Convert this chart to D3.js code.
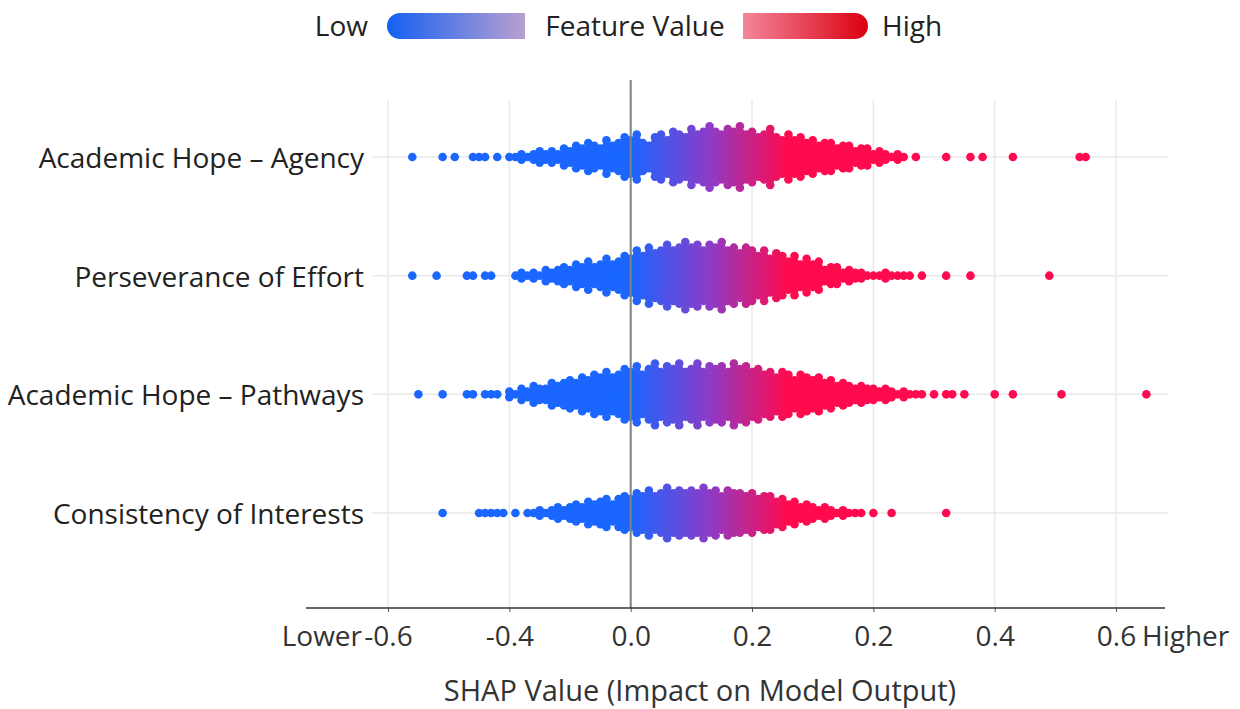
<!DOCTYPE html>
<html>
<head>
<meta charset="utf-8">
<title>SHAP summary</title>
<style>
  body { margin: 0; background: #fff; font-family: "Open Sans", sans-serif; }
  svg { display: block; }
</style>
</head>
<body>
<svg width="1240" height="709"></svg>
<script src="https://d3js.org/d3.v7.min.js"></script>
<script>
// features, top to bottom
const features = [
  "Academic Hope – Agency",
  "Perseverance of Effort",
  "Academic Hope – Pathways",
  "Consistency of Interests"
];

// dots per SHAP bin, bins start at -0.40 and step 0.01 (127 bins, to 0.86)
const binStart = -0.40, binStep = 0.01;

const agencyCounts = [
  0,0,0,0,1,0,0,0,0,1,   // -0.40 .. -0.31
  0,1,0,0,1,1,1,0,1,0,   // -0.30 .. -0.21
  1,1,2,1,2,3,2,3,2,4,   // -0.20 .. -0.11
  3,5,4,6,5,4,7,5,6,8,   // -0.10 .. -0.01
  7,9,6,5,8,9,7,10,9,8,  //  0.00 ..  0.09
  11,9,10,12,10,9,11,10,12,9,
  10,8,9,11,8,7,9,7,8,6, //  0.20 ..
  7,5,6,6,4,5,5,3,4,4,
  2,3,2,1,2,1,0,1,0,0,   //  0.40 ..
  0,0,1,0,0,0,1,0,1,0,
  0,0,0,1,0,0,0,0,0,0,   //  0.60 ..
  0,0,0,0,1,1,0,0,0,0,
  0,0,0,0,0,0,0
];

const perseveranceCounts = [
  0,0,0,0,1,0,0,0,1,0,
  0,0,0,1,1,0,1,1,0,0,
  0,1,2,1,2,1,3,2,3,4,
  3,5,4,6,4,5,7,5,6,8,
  7,10,8,11,9,10,12,10,11,13,
  11,12,10,12,11,13,10,11,9,11,
  10,8,10,7,9,8,6,8,5,7,
  5,6,3,4,4,2,3,2,2,1,
  1,1,2,1,1,1,1,0,1,0,
  0,0,1,0,0,0,1,0,0,0,
  0,0,0,0,0,0,0,0,0,1,
  0,0,0,0,0,0,0,0,0,0,
  0,0,0,0,0,0,0
];

const pathwaysCounts = [
  0,0,0,0,0,1,0,0,0,1,
  0,0,0,1,1,0,1,1,1,0,
  2,1,3,2,4,3,3,5,4,5,
  6,5,7,6,8,7,9,7,8,10,
  9,11,8,10,12,9,11,10,12,9,
  10,12,9,11,10,11,9,12,10,11,
  9,10,8,9,7,9,8,6,8,7,
  6,7,5,6,4,5,4,3,4,3,
  3,2,3,2,1,2,1,1,1,0,
  1,0,1,1,0,1,0,0,0,0,
  1,0,0,1,0,0,0,0,0,0,
  0,1,0,0,0,0,0,0,0,0,
  0,0,0,0,0,1,0
];

const consistencyCounts = [
  0,0,0,0,0,0,0,0,0,1,
  0,0,0,0,0,1,1,1,1,1,
  0,1,0,1,1,2,1,2,3,2,
  3,4,3,5,4,5,6,4,6,7,
  6,8,7,9,7,8,10,8,9,8,
  9,8,10,8,9,7,9,8,8,7,
  8,6,7,7,5,6,4,5,3,4,
  3,2,3,2,1,2,1,1,1,0,
  1,0,0,1,0,0,0,0,0,0,
  0,0,1,0,0,0,0,0,0,0,
  0,0,0,0,0,0,0,0,0,0,
  0,0,0,0,0,0,0,0,0,0,
  0,0,0,0,0,0,0
];

const featureCounts = [agencyCounts, perseveranceCounts, pathwaysCounts, consistencyCounts];

// axis ticks as printed on the figure
const xTickValues = [-0.4, -0.2, 0, 0.2, 0.4, 0.6, 0.8];
const xTickLabels = ["-0.6", "-0.4", "0.0", "0.2", "0.2", "0.4", "0.6"];

const svg = d3.select("svg");
const fs = 28;

const x = d3.scaleLinear().domain([-0.405, 0.795]).range([385, 1113]);
const y = d3.scalePoint().domain(features).range([157, 513]);
const color = d3.scaleLinear()
  .domain([0, 0.13, 0.26])
  .range(["#1a66ff", "#8c3cc8", "#ff0a4e"])
  .clamp(true);

const axisY = 608;
const layerGap = 5.6;

// vertical grid
svg.append("g").selectAll("line")
  .data(xTickValues).join("line")
  .attr("x1", d => x(d)).attr("x2", d => x(d))
  .attr("y1", 100).attr("y2", axisY)
  .attr("stroke", "#e9e9e9").attr("stroke-width", 1.5);

// row lines
svg.append("g").selectAll("line")
  .data(features).join("line")
  .attr("x1", 372).attr("x2", 1168)
  .attr("y1", d => y(d)).attr("y2", d => y(d))
  .attr("stroke", "#e9e9e9").attr("stroke-width", 1.5);

// beeswarm: dots of a bin stacked symmetrically round the row line
// (odd count -> 0, ±1, ±2 ..., even count -> ±0.5, ±1.5 ...)
const dots = [];
features.forEach((f, k) => {
  featureCounts[k].forEach((c, i) => {
    const v = binStart + i * binStep;
    const shift = c % 2 ? 0 : 0.5;
    for (let layer = 0; layer < c; layer++) {
      const step = c % 2 ? Math.ceil(layer / 2) : Math.floor(layer / 2) + shift;
      const off = step * (layer % 2 ? 1 : -1);
      dots.push({ f, v, off });
    }
  });
});

svg.append("g").selectAll("circle")
  .data(dots).join("circle")
  .attr("cx", d => x(d.v))
  .attr("cy", d => y(d.f) + d.off * layerGap)
  .attr("r", 4.3)
  .attr("fill", d => color(d.v));

// zero line
svg.append("line")
  .attr("x1", x(0)).attr("x2", x(0))
  .attr("y1", 80).attr("y2", axisY)
  .attr("stroke", "#808080").attr("stroke-width", 2);

// feature labels
svg.append("g").selectAll("text")
  .data(features).join("text")
  .attr("x", 364).attr("y", d => y(d))
  .attr("text-anchor", "end")
  .attr("dominant-baseline", "central")
  .attr("font-size", fs)
  .attr("fill", "#222")
  .text(d => d);

// x axis
const xAxis = svg.append("g")
  .attr("transform", `translate(0,${axisY})`)
  .call(d3.axisBottom(x)
    .tickValues(xTickValues)
    .tickFormat((d, i) => xTickLabels[i])
    .tickSize(4)
    .tickPadding(14));
xAxis.select(".domain").remove();
xAxis.selectAll(".tick line").attr("stroke", "#555");
xAxis.selectAll(".tick text")
  .attr("font-size", fs)
  .attr("font-family", "Open Sans, sans-serif")
  .attr("fill", "#333");

svg.append("line")
  .attr("x1", 306).attr("x2", 1165)
  .attr("y1", axisY).attr("y2", axisY)
  .attr("stroke", "#333").attr("stroke-width", 1.5);

svg.append("text")
  .attr("x", 362).attr("y", 646)
  .attr("text-anchor", "end")
  .attr("font-size", fs).attr("fill", "#333")
  .text("Lower");
svg.append("text")
  .attr("x", 1142).attr("y", 646)
  .attr("font-size", fs).attr("fill", "#333")
  .text("Higher");

svg.append("text")
  .attr("x", 700).attr("y", 701)
  .attr("text-anchor", "middle")
  .attr("font-size", 29).attr("fill", "#333")
  .text("SHAP Value (Impact on Model Output)");

// legend
const defs = svg.append("defs");
const gLow = defs.append("linearGradient").attr("id", "gLow")
  .attr("gradientUnits", "userSpaceOnUse")
  .attr("x1", 387).attr("x2", 525).attr("y1", 0).attr("y2", 0);
gLow.append("stop").attr("offset", 0).attr("stop-color", "#1460f2");
gLow.append("stop").attr("offset", 1).attr("stop-color", "#b8a0d0");
const gHigh = defs.append("linearGradient").attr("id", "gHigh")
  .attr("gradientUnits", "userSpaceOnUse")
  .attr("x1", 743).attr("x2", 868).attr("y1", 0).attr("y2", 0);
gHigh.append("stop").attr("offset", 0).attr("stop-color", "#f4869a");
gHigh.append("stop").attr("offset", 1).attr("stop-color", "#da0010");

const legY = 13, legH = 26;
svg.append("rect").attr("x", 387).attr("y", legY).attr("width", 138).attr("height", legH)
  .attr("rx", legH / 2).attr("fill", "url(#gLow)");
svg.append("rect").attr("x", 405).attr("y", legY).attr("width", 120).attr("height", legH)
  .attr("fill", "url(#gLow)");
svg.append("rect").attr("x", 743).attr("y", legY).attr("width", 125).attr("height", legH)
  .attr("rx", legH / 2).attr("fill", "url(#gHigh)");
svg.append("rect").attr("x", 743).attr("y", legY).attr("width", 107).attr("height", legH)
  .attr("fill", "url(#gHigh)");

const legText = [
  { t: "Low", x: 368, a: "end" },
  { t: "Feature Value", x: 635, a: "middle" },
  { t: "High", x: 882, a: "start" }
];
svg.append("g").selectAll("text")
  .data(legText).join("text")
  .attr("x", d => d.x).attr("y", 36)
  .attr("text-anchor", d => d.a)
  .attr("font-size", fs).attr("fill", "#222")
  .text(d => d.t);
</script>
</body>
</html>
